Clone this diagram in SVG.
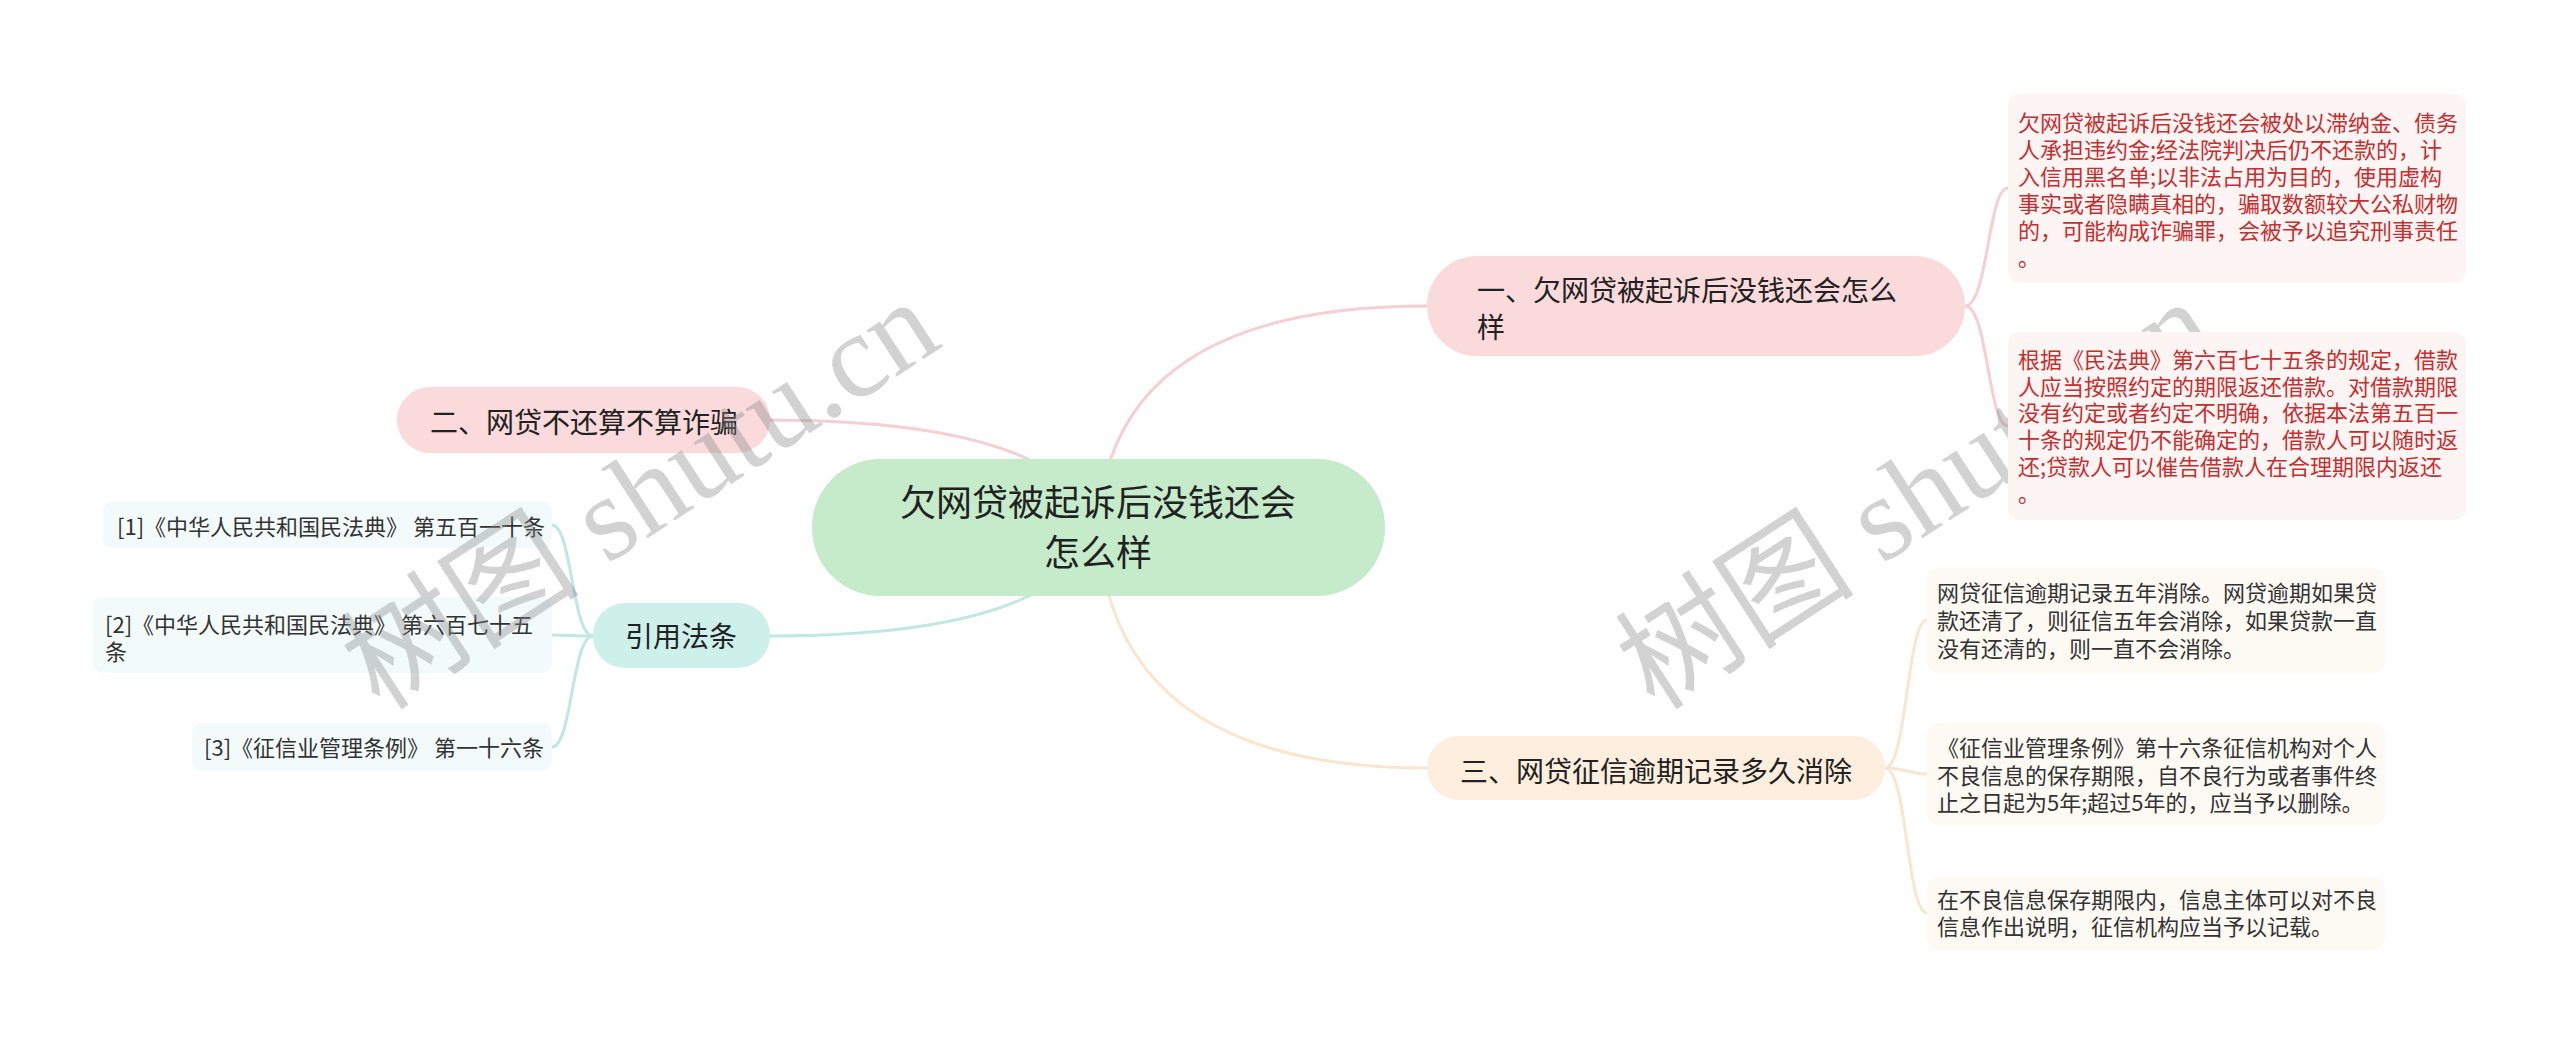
<svg xmlns="http://www.w3.org/2000/svg" width="2560" height="1046" viewBox="0 0 2560 1046">
<style>
text{font-family:"Noto Sans CJK SC","Noto Sans",sans-serif}
.c{font-size:36px;fill:#222}
.m{font-size:28px;fill:#222}
.l{font-size:22px;fill:#333}
.r{font-size:22px;fill:#c62f2f}
.ln{fill:none;stroke-width:3;stroke-linecap:round}
.pk{stroke:#f5cfd1}
.pe{stroke:#fbe5cf}
.te{stroke:#bfe8e1}
.wm{font-family:"Liberation Serif","Noto Sans CJK SC",serif;font-size:120px;fill:#888;fill-opacity:0.38}
</style>
<rect width="2560" height="1046" fill="#ffffff"/>
<g id="connectors">
<path class="ln pk" d="M1098,527 Q1110,306 1427,306"/>
<path class="ln pe" d="M1098,527 Q1110,768 1427,768"/>
<path class="ln pk" d="M1098,527 Q1060,420 767,420"/>
<path class="ln te" d="M1098,527 Q1060,636 770,636"/>
<path class="ln pk" d="M1965,306 C1988,306 1988,188 2008,188"/>
<path class="ln pk" d="M1965,306 C1988,306 1988,426 2008,426"/>
<path class="ln pe" d="M1885,768 C1907,768 1907,620 1927,620"/>
<path class="ln pe" d="M1885,768 C1907,768 1907,774 1927,774"/>
<path class="ln pe" d="M1885,768 C1907,768 1907,913 1927,913"/>
<path class="ln te" d="M593,636 C572,636 572,525 552,525"/>
<path class="ln te" d="M593,636 C572,636 572,635 552,635"/>
<path class="ln te" d="M593,636 C572,636 572,747 552,747"/>
</g>
<g id="watermark-right">
<text class="wm" x="1655" y="712" transform="rotate(-33 1655 712)">树图 shutu.cn</text>
</g>
<g id="root">
<rect x="812" y="459" width="573" height="137" rx="68" fill="#c5ebcb"/>
<text class="c" x="1098" y="516" text-anchor="middle">欠网贷被起诉后没钱还会</text>
<text class="c" x="1098" y="566" text-anchor="middle">怎么样</text>
</g>
<g id="n1">
<rect x="1427" y="256" width="538" height="100" rx="50" fill="#fadadb"/>
<text class="m" x="1477" y="301">一、欠网贷被起诉后没钱还会怎么</text>
<text class="m" x="1477" y="338">样</text>
</g>
<g id="n1a">
<rect x="2008" y="94" width="458" height="189" rx="12" fill="#fdf4f4"/>
<text class="r" x="2018" y="131">欠网贷被起诉后没钱还会被处以滞纳金、债务</text>
<text class="r" x="2018" y="158">人承担违约金;经法院判决后仍不还款的，计</text>
<text class="r" x="2018" y="185">入信用黑名单;以非法占用为目的，使用虚构</text>
<text class="r" x="2018" y="212">事实或者隐瞒真相的，骗取数额较大公私财物</text>
<text class="r" x="2018" y="239">的，可能构成诈骗罪，会被予以追究刑事责任</text>
<text class="r" x="2018" y="266">。</text>
</g>
<g id="n1b">
<rect x="2008" y="332" width="458" height="188" rx="12" fill="#fdf4f4"/>
<text class="r" x="2018" y="368">根据《民法典》第六百七十五条的规定，借款</text>
<text class="r" x="2018" y="395">人应当按照约定的期限返还借款。对借款期限</text>
<text class="r" x="2018" y="421">没有约定或者约定不明确，依据本法第五百一</text>
<text class="r" x="2018" y="448">十条的规定仍不能确定的，借款人可以随时返</text>
<text class="r" x="2018" y="475">还;贷款人可以催告借款人在合理期限内返还</text>
<text class="r" x="2018" y="502">。</text>
</g>
<g id="n2">
<rect x="397" y="387" width="373" height="66" rx="33" fill="#fadadb"/>
<text class="m" x="430" y="433">二、网贷不还算不算诈骗</text>
</g>
<g id="n3">
<rect x="1427" y="736" width="458" height="64" rx="32" fill="#fdeedd"/>
<text class="m" x="1460" y="782">三、网贷征信逾期记录多久消除</text>
</g>
<g id="n3a">
<rect x="1927" y="568" width="458" height="105" rx="12" fill="#fdf9f3"/>
<text class="l" x="1937" y="601">网贷征信逾期记录五年消除。网贷逾期如果贷</text>
<text class="l" x="1937" y="629">款还清了，则征信五年会消除，如果贷款一直</text>
<text class="l" x="1937" y="657">没有还清的，则一直不会消除。</text>
</g>
<g id="n3b">
<rect x="1927" y="723" width="458" height="102" rx="12" fill="#fdf9f3"/>
<text class="l" x="1937" y="756">《征信业管理条例》第十六条征信机构对个人</text>
<text class="l" x="1937" y="784">不良信息的保存期限，自不良行为或者事件终</text>
<text class="l" x="1937" y="811">止之日起为5年;超过5年的，应当予以删除。</text>
</g>
<g id="n3c">
<rect x="1927" y="877" width="458" height="73" rx="12" fill="#fdf9f3"/>
<text class="l" x="1937" y="908">在不良信息保存期限内，信息主体可以对不良</text>
<text class="l" x="1937" y="935">信息作出说明，征信机构应当予以记载。</text>
</g>
<g id="n4">
<rect x="593" y="603" width="177" height="65" rx="32" fill="#cdf0ea"/>
<text class="m" x="681" y="647" text-anchor="middle">引用法条</text>
</g>
<g id="n4a">
<rect x="103" y="501" width="449" height="47" rx="10" fill="#f3fafa"/>
<text class="l" x="117" y="535">[1]《中华人民共和国民法典》 第五百一十条</text>
</g>
<g id="n4b">
<rect x="93" y="597" width="459" height="76" rx="10" fill="#f3fafa"/>
<text class="l" x="105" y="633">[2]《中华人民共和国民法典》 第六百七十五</text>
<text class="l" x="105" y="660">条</text>
</g>
<g id="n4c">
<rect x="192" y="723" width="360" height="48" rx="10" fill="#f3fafa"/>
<text class="l" x="204" y="756">[3]《征信业管理条例》 第一十六条</text>
</g>
<g id="watermark-left">
<text class="wm" x="380" y="712" transform="rotate(-33 380 712)">树图 shutu.cn</text>
</g>
</svg>
